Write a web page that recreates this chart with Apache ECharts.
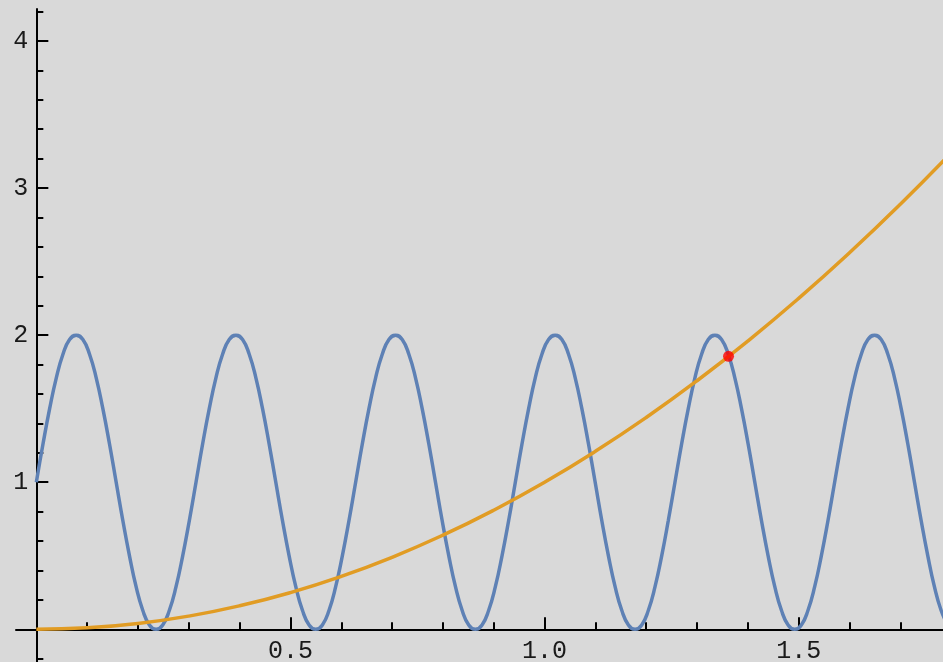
<!DOCTYPE html>
<html>
<head>
<meta charset="utf-8">
<script src="https://cdn.jsdelivr.net/npm/echarts@6/dist/echarts.min.js"></script>
<style>
  html, body { margin: 0; padding: 0; background: #d9d9d9; }
  #chart { width: 943px; height: 662px; }
</style>
</head>
<body>
<div id="chart"></div>
<script>
// Oscillating curve, sampled at 24 points per period
const waveX = [
  0.0000, 0.0131, 0.0262, 0.0393, 0.0524, 0.0654, 0.0785, 0.0916, 0.1047, 0.1178, 0.1309, 0.1440,
  0.1571, 0.1702, 0.1833, 0.1963, 0.2094, 0.2225, 0.2356, 0.2487, 0.2618, 0.2749, 0.2880, 0.3011,
  0.3142, 0.3272, 0.3403, 0.3534, 0.3665, 0.3796, 0.3927, 0.4058, 0.4189, 0.4320, 0.4451, 0.4581,
  0.4712, 0.4843, 0.4974, 0.5105, 0.5236, 0.5367, 0.5498, 0.5629, 0.5760, 0.5890, 0.6021, 0.6152,
  0.6283, 0.6414, 0.6545, 0.6676, 0.6807, 0.6938, 0.7069, 0.7199, 0.7330, 0.7461, 0.7592, 0.7723,
  0.7854, 0.7985, 0.8116, 0.8247, 0.8378, 0.8508, 0.8639, 0.8770, 0.8901, 0.9032, 0.9163, 0.9294,
  0.9425, 0.9556, 0.9687, 0.9817, 0.9948, 1.0079, 1.0210, 1.0341, 1.0472, 1.0603, 1.0734, 1.0865,
  1.0996, 1.1126, 1.1257, 1.1388, 1.1519, 1.1650, 1.1781, 1.1912, 1.2043, 1.2174, 1.2305, 1.2435,
  1.2566, 1.2697, 1.2828, 1.2959, 1.3090, 1.3221, 1.3352, 1.3483, 1.3614, 1.3744, 1.3875, 1.4006,
  1.4137, 1.4268, 1.4399, 1.4530, 1.4661, 1.4792, 1.4923, 1.5053, 1.5184, 1.5315, 1.5446, 1.5577,
  1.5708, 1.5839, 1.5970, 1.6101, 1.6232, 1.6362, 1.6493, 1.6624, 1.6755, 1.6886, 1.7017, 1.7148,
  1.7279, 1.7410, 1.7541, 1.7671, 1.7802, 1.7933
];
const waveY = [
  1.00, 1.26, 1.50, 1.71, 1.87, 1.97, 2.00, 1.97, 1.87, 1.71, 1.50, 1.26,
  1.00, 0.74, 0.50, 0.29, 0.13, 0.03, 0.00, 0.03, 0.13, 0.29, 0.50, 0.74,
  1.00, 1.26, 1.50, 1.71, 1.87, 1.97, 2.00, 1.97, 1.87, 1.71, 1.50, 1.26,
  1.00, 0.74, 0.50, 0.29, 0.13, 0.03, 0.00, 0.03, 0.13, 0.29, 0.50, 0.74,
  1.00, 1.26, 1.50, 1.71, 1.87, 1.97, 2.00, 1.97, 1.87, 1.71, 1.50, 1.26,
  1.00, 0.74, 0.50, 0.29, 0.13, 0.03, 0.00, 0.03, 0.13, 0.29, 0.50, 0.74,
  1.00, 1.26, 1.50, 1.71, 1.87, 1.97, 2.00, 1.97, 1.87, 1.71, 1.50, 1.26,
  1.00, 0.74, 0.50, 0.29, 0.13, 0.03, 0.00, 0.03, 0.13, 0.29, 0.50, 0.74,
  1.00, 1.26, 1.50, 1.71, 1.87, 1.97, 2.00, 1.97, 1.87, 1.71, 1.50, 1.26,
  1.00, 0.74, 0.50, 0.29, 0.13, 0.03, 0.00, 0.03, 0.13, 0.29, 0.50, 0.74,
  1.00, 1.26, 1.50, 1.71, 1.87, 1.97, 2.00, 1.97, 1.87, 1.71, 1.50, 1.26,
  1.00, 0.74, 0.50, 0.29, 0.13, 0.03
];

// Rising curve
const growX = [0.0, 0.1, 0.2, 0.3, 0.4, 0.5, 0.6, 0.7, 0.8, 0.9, 1.0,
               1.1, 1.2, 1.3, 1.4, 1.5, 1.6, 1.7, 1.8];
const growY = [0.00, 0.01, 0.04, 0.09, 0.16, 0.25, 0.36, 0.49, 0.64, 0.81, 1.00,
               1.21, 1.44, 1.69, 1.96, 2.25, 2.56, 2.89, 3.24];

// Crossing point
const crossPoint = [1.362, 1.856];

// Ticks and labels
const xMajorTicks = [0.5, 1.0, 1.5];
const xTickLabels = ['0.5', '1.0', '1.5'];
const xMinorTicks = [0.1, 0.2, 0.3, 0.4, 0.6, 0.7, 0.8, 0.9, 1.1, 1.2, 1.3, 1.4, 1.6, 1.7];
const yMajorTicks = [1, 2, 3, 4];
const yTickLabels = ['1', '2', '3', '4'];
const yMinorTicks = [-0.2, 0.2, 0.4, 0.6, 0.8, 1.2, 1.4, 1.6, 1.8, 2.2, 2.4, 2.6, 2.8,
                     3.2, 3.4, 3.6, 3.8, 4.2];

const X_RANGE = [-0.04, 1.784];
const Y_RANGE = [-0.222, 4.217];

// Plot box in pixels; the label grids are cut at the zero lines
const BOX = { left: 16, right: 0, top: 9, bottom: 0, width: 927, height: 653 };
const zeroX = BOX.left + (0 - X_RANGE[0]) / (X_RANGE[1] - X_RANGE[0]) * BOX.width;
const zeroYFromBottom = BOX.bottom + (0 - Y_RANGE[0]) / (Y_RANGE[1] - Y_RANGE[0]) * BOX.height;

const LABEL_FONT = { fontFamily: '"Liberation Mono", monospace', fontSize: 25, color: '#1a1a1a' };
const AXIS_LINE = { color: '#000', width: 2 };
const TICK_LINE = { color: '#000', width: 2 };

function labelFor(values, labels) {
  return v => {
    const i = values.findIndex(t => Math.abs(t - v) < 1e-9);
    return i >= 0 ? labels[i] : '';
  };
}

const hidden = { axisLine: { show: false }, axisTick: { show: false },
                 axisLabel: { show: false }, splitLine: { show: false } };

// Axis lines and ticks sit on the zero lines of the main grid
function xTickAxis(major) {
  return {
    type: 'value', gridIndex: 0, position: 'bottom', min: X_RANGE[0], max: X_RANGE[1],
    axisLine: { show: major, onZero: true, lineStyle: AXIS_LINE },
    axisTick: { show: true, inside: true, length: major ? 12 : 7, lineStyle: TICK_LINE,
                customValues: major ? xMajorTicks : xMinorTicks },
    axisLabel: { show: false },
    splitLine: { show: false }
  };
}
function yTickAxis(major) {
  return {
    type: 'value', gridIndex: 0, position: 'left', min: Y_RANGE[0], max: Y_RANGE[1],
    axisLine: { show: major, onZero: true, lineStyle: AXIS_LINE },
    axisTick: { show: true, inside: true, length: major ? 12 : 7, lineStyle: TICK_LINE,
                customValues: major ? yMajorTicks : yMinorTicks },
    axisLabel: { show: false },
    splitLine: { show: false }
  };
}

const chart = echarts.init(document.getElementById('chart'), null, { renderer: 'canvas' });
chart.setOption({
  animation: false,
  backgroundColor: '#d9d9d9',
  grid: [
    // main plot area
    { left: BOX.left, right: BOX.right, top: BOX.top, bottom: BOX.bottom,
      containLabel: false, outerBoundsMode: 'none' },
    // x tick labels, bottom edge on y = 0
    { left: BOX.left, right: BOX.right, top: BOX.top, bottom: zeroYFromBottom,
      containLabel: false, outerBoundsMode: 'none' },
    // y tick labels, left edge on x = 0
    { left: zeroX, right: BOX.right, top: BOX.top, bottom: BOX.bottom,
      containLabel: false, outerBoundsMode: 'none' }
  ],
  xAxis: [
    xTickAxis(true),
    xTickAxis(false),
    Object.assign({ type: 'value', gridIndex: 1, position: 'bottom',
      min: X_RANGE[0], max: X_RANGE[1] }, hidden, {
      axisLine: { show: false, onZero: false },
      axisLabel: Object.assign({ show: true, customValues: xMajorTicks, margin: 10,
        formatter: labelFor(xMajorTicks, xTickLabels) }, LABEL_FONT)
    }),
    Object.assign({ type: 'value', gridIndex: 2, min: 0, max: 1 }, hidden)
  ],
  yAxis: [
    yTickAxis(true),
    yTickAxis(false),
    Object.assign({ type: 'value', gridIndex: 1, min: 0, max: 1 }, hidden),
    Object.assign({ type: 'value', gridIndex: 2, position: 'left',
      min: Y_RANGE[0], max: Y_RANGE[1] }, hidden, {
      axisLine: { show: false, onZero: false },
      axisLabel: Object.assign({ show: true, customValues: yMajorTicks, margin: 8,
        formatter: labelFor(yMajorTicks, yTickLabels) }, LABEL_FONT)
    })
  ],
  series: [
    {
      type: 'line', xAxisIndex: 0, yAxisIndex: 0,
      data: waveX.map((x, i) => [x, waveY[i]]),
      smooth: true, showSymbol: false,
      lineStyle: { color: '#5e81b5', width: 3.5 }
    },
    {
      type: 'line', xAxisIndex: 0, yAxisIndex: 0,
      data: growX.map((x, i) => [x, growY[i]]),
      smooth: true, showSymbol: false,
      lineStyle: { color: '#e19c24', width: 3.5 }
    },
    {
      type: 'scatter', xAxisIndex: 0, yAxisIndex: 0,
      data: [crossPoint], symbolSize: 11,
      itemStyle: { color: '#ff0000' }, z: 5
    }
  ]
});
</script>
</body>
</html>
